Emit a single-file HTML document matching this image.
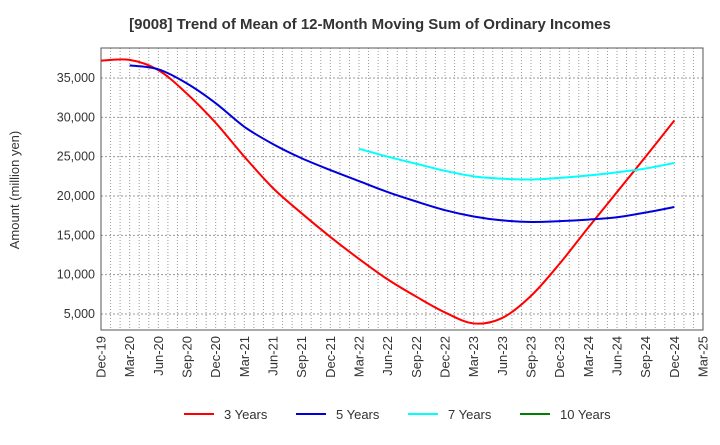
<!DOCTYPE html>
<html><head><meta charset="utf-8">
<style>body{margin:0;background:#fff;font-family:"Liberation Sans",sans-serif}</style></head>
<body>
<svg id="chart" width="720" height="440" xmlns="http://www.w3.org/2000/svg" font-family="Liberation Sans, sans-serif">
<text x="370" y="29" font-size="15" font-weight="bold" text-anchor="middle" fill="#333">[9008]  Trend of Mean of 12-Month Moving Sum of Ordinary Incomes</text>
<text transform="translate(19,190) rotate(-90)" font-size="13" text-anchor="middle" fill="#333">Amount (million yen)</text>
<g id="grid"></g><g id="axes"></g><g id="series"></g>
<g font-size="13" fill="#333">
<line x1="184" y1="414" x2="214" y2="414" stroke="#ff0000" stroke-width="2"/><text x="224" y="419">3 Years</text>
<line x1="296" y1="414" x2="326" y2="414" stroke="#0000dd" stroke-width="2"/><text x="336" y="419">5 Years</text>
<line x1="408" y1="414" x2="438" y2="414" stroke="#00ffff" stroke-width="2"/><text x="448" y="419">7 Years</text>
<line x1="520" y1="414" x2="550" y2="414" stroke="#008000" stroke-width="2"/><text x="560" y="419">10 Years</text>
</g>
</svg>
<script>
const xLabels=["Dec-19","Mar-20","Jun-20","Sep-20","Dec-20","Mar-21","Jun-21","Sep-21","Dec-21","Mar-22","Jun-22","Sep-22","Dec-22","Mar-23","Jun-23","Sep-23","Dec-23","Mar-24","Jun-24","Sep-24","Dec-24","Mar-25"];
const yTicks=[5000,10000,15000,20000,25000,30000,35000];
const y3=[37200,37300,36000,33000,29300,25000,21000,17800,14800,12000,9400,7200,5200,3800,4500,7300,11400,16000,20500,25000,29600];
const y5=[null,36600,36100,34300,31800,28800,26600,24800,23300,21900,20500,19300,18200,17400,16900,16700,16800,17000,17300,17900,18600];
const y7=[null,null,null,null,null,null,null,null,null,26000,25000,24100,23200,22500,22200,22100,22300,22600,23000,23500,24200];
const L=101,R=703,T=48,B=330;
const X=i=>L+(R-L)*i/21;
const Y=v=>314+(5000-v)*(314-78)/30000;
const NS="http://www.w3.org/2000/svg";
function mk(tag,attrs,parent){const e=document.createElementNS(NS,tag);for(const k in attrs)e.setAttribute(k,attrs[k]);parent.appendChild(e);return e;}
const grid=document.getElementById('grid'),axes=document.getElementById('axes'),ser=document.getElementById('series');
for(let m=1;m<63;m++){const x=L+(R-L)*m/63;const l=mk('line',{x1:x,x2:x,y1:T,y2:B,stroke:'#999','stroke-dasharray':'1,2','stroke-width':1},grid);

}
yTicks.forEach(v=>{const l=mk('line',{x1:L,x2:R,y1:Y(v),y2:Y(v),stroke:'#999','stroke-dasharray':'2,2'},grid);


const t=mk('text',{x:L-6,y:Y(v)+4,'font-size':12.5,'text-anchor':'end',fill:'#333'},axes);t.textContent=v.toLocaleString('en-US');

});
const box=mk('rect',{x:L,y:T,width:R-L,height:B-T,fill:'none',stroke:'#555'},axes);


xLabels.forEach((s,i)=>{const t=mk('text',{transform:`translate(${X(i)+4.5},${B+6}) rotate(-90)`,'font-size':13,'text-anchor':'end',fill:'#333'},axes);t.textContent=s;

});
function path(d,color,name){const pts=[];d.forEach((v,i)=>{if(v!=null)pts.push([X(i),Y(v)]);});
let s=`M${pts[0][0]},${pts[0][1]}`;
for(let i=0;i<pts.length-1;i++){const p0=pts[i-1]||pts[i],p1=pts[i],p2=pts[i+1],p3=pts[i+2]||p2;
s+=`C${p1[0]+(p2[0]-p0[0])/6},${p1[1]+(p2[1]-p0[1])/6} ${p2[0]-(p3[0]-p1[0])/6},${p2[1]-(p3[1]-p1[1])/6} ${p2[0]},${p2[1]}`;}
const p=mk('path',{d:s,fill:'none',stroke:color,'stroke-width':2},ser);

}
path(y3,'#ff0000','line-3-years');path(y5,'#0000dd','line-5-years');path(y7,'#00ffff','line-7-years');
</script>
</body></html>
